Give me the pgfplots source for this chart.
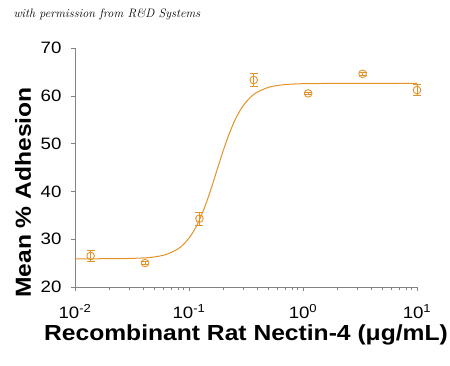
\documentclass[border=0pt]{standalone}
\usepackage{pgfplots}
\pgfplotsset{compat=1.18}
\usepackage{fontspec}
\setmainfont{Liberation Sans}
\newfontfamily\wide[FakeStretch=1.13]{Liberation Sans}
\definecolor{curve}{RGB}{228,146,40}
\definecolor{axgray}{RGB}{130,130,130}
\begin{document}
\begin{tikzpicture}[x=1pt,y=1pt]
\path[use as bounding box] (0,0) rectangle (450,365);
\begin{axis}[
  at={(75pt,78pt)}, anchor=south west,
  scale only axis, width=342pt, height=239pt,
  xmode=log, xmin=0.01, xmax=10, ymin=20, ymax=70,
  axis x line*=bottom, axis y line*=left,
  axis line style={axgray, line width=0.8pt},
  every tick/.style={axgray, line width=0.6pt},
  tick align=outside,
  major tick length=4pt, minor tick length=3pt,
  xtick={0.01,0.1,1,10},
  xticklabels={10\textsuperscript{-2},10\textsuperscript{-1},10\textsuperscript{0},10\textsuperscript{1}},
  ytick={20,30,40,50,60,70},
  /pgf/number format/assume math mode=true,
  tick label style={font=\wide\fontsize{16.5}{16.5}\selectfont},
  yticklabel style={xshift=-6pt},
  xticklabel style={inner sep=0pt, yshift=-13pt},
  clip=false,
]
\addplot[curve, line width=1pt, smooth] coordinates {
(0.01,25.90) (0.01585,25.91) (0.02512,25.93) (0.03981,26.08) (0.05012,26.30)
(0.0631,26.81) (0.07943,27.92) (0.08913,28.87) (0.1,30.22) (0.1122,32.06)
(0.1259,34.49) (0.1413,37.50) (0.1585,41.01) (0.1778,44.78) (0.1995,48.50)
(0.2239,51.89) (0.2512,54.75) (0.2818,57.00) (0.3162,58.70) (0.3548,59.93)
(0.3981,60.79) (0.5012,61.79) (0.631,62.24) (0.7943,62.44) (1,62.53)
(1.778,62.59) (3.162,62.60) (10,62.60)
};
\addplot[curve, only marks, mark=o, mark size=3.8pt, mark options={line width=0.9pt},
  error bars/.cd, y dir=both, y explicit,
  error bar style={line width=0.9pt},
  error mark options={rotate=90, mark size=4pt, line width=0.9pt}]
coordinates {
(0.0137,26.5) +- (0,1.2)
(0.0412,25.0) +- (0,0.3)
(0.1235,34.3) +- (0,1.4)
(0.370,63.3) +- (0,1.3)
(1.11,60.5) +- (0,0.3)
(3.33,64.6) +- (0,0.3)
(10,61.2) +- (0,1.1)
};
\end{axis}
\node[anchor=base west, font=\fontfamily{lmr}\itshape\fontsize{12.2}{12.2}\selectfont] at (10,347) {with permission from R\&D Systems};
\node[rotate=90, font=\wide\bfseries\fontsize{21.8}{21.8}\selectfont] at (23,172.5) {Mean \% Adhesion};
\node[anchor=base, inner sep=0pt, font=\wide\bfseries\fontsize{21.8}{21.8}\selectfont] at (246,25) {Recombinant Rat Nectin-4 (μg/mL)};
\end{tikzpicture}
\end{document}
